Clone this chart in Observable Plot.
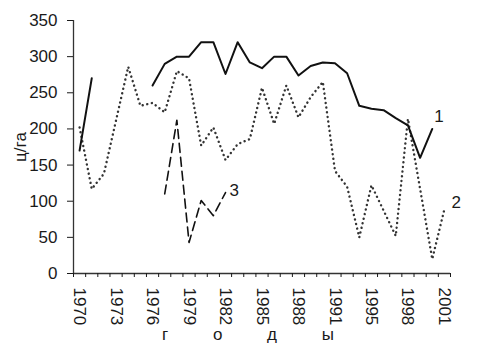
<!DOCTYPE html>
<html><head><meta charset="utf-8">
<script src="https://cdn.jsdelivr.net/npm/d3@7"></script>
<script src="https://cdn.jsdelivr.net/npm/@observablehq/plot@0.6"></script>
<style>body{margin:0;background:#fff} svg{font-family:"Liberation Sans",Arial,sans-serif}</style>
</head><body><div id="chart"></div>
<script>
// categories (one year, 1992, is absent in the original category axis)
const years = [1970,1971,1972,1973,1974,1975,1976,1977,1978,1979,1980,1981,1982,1983,1984,1985,1986,1987,1988,1989,1990,1991,1993,1994,1995,1996,1997,1998,1999,2000,2001];
// series 1 (solid)
const series1 = [170,270,null,null,null,null,260,290,300,300,320,320,276,320,292,284,300,300,274,287,292,291,277,232,228,226,215,205,160,200,null];
// series 2 (dotted)
const series2 = [202,117,138,212,286,232,236,223,280,270,177,202,157,179,186,257,207,260,216,244,265,142,120,50,122,87,52,214,117,20,89];
// series 3 (dashed)
const series3 = [null,null,null,null,null,null,null,110,212,43,101,80,112,null,null,null,null,null,null,null,null,null,null,null,null,null,null,null,null,null,null];
const seriesLabels = ["1","2","3"];
const yTicks = [0,50,100,150,200,250,300,350];
const xLabelStep = 3;
const yLabel = "ц/га";
const xLabel = "г о д ы";

const rows = (vals) => vals.map((v, i) => ({i, year: years[i], v}));
const r1 = rows(series1), r2 = rows(series2), r3 = rows(series3);
const lastOf = (r, k) => ({...r.filter(d => d.v != null).at(-1), label: seriesLabels[k]});
const lab1 = lastOf(r1, 0), lab2 = lastOf(r2, 1), lab3 = lastOf(r3, 2);

const plot = Plot.plot({
  width: 484, height: 351,
  marginLeft: 73, marginRight: 34, marginTop: 20, marginBottom: 78,
  style: {fontFamily: "Liberation Sans, Arial, sans-serif", fontSize: "17px", color: "#1a1a1a", background: "#fff"},
  x: {domain: [-0.5, years.length - 0.5]},
  y: {domain: [0, 350]},
  marks: [
    Plot.ruleY([0], {stroke: "#333", strokeWidth: 1.3}),
    Plot.ruleX([-0.5], {stroke: "#333", strokeWidth: 1.3}),
    Plot.axisY({ticks: yTicks, tickSize: 6, tickPadding: 10, label: yLabel, labelAnchor: "center", labelOffset: 60, labelArrow: "none", fontSize: 17}),
    Plot.axisX({ticks: d3.range(years.length + 1).map(k => k - 0.5), tickSize: 4, tickFormat: () => "", label: null}),
    Plot.axisX({ticks: d3.range(0, years.length, xLabelStep), tickSize: 0, tickPadding: 14, tickRotate: 90, tickFormat: i => String(years[i]), label: null, fontSize: 17}),
    Plot.line(r2, {x: "i", y: "v", stroke: "#333", strokeWidth: 2.4, strokeDasharray: "0.1 4.6", strokeLinecap: "round"}),
    Plot.line(r3, {x: "i", y: "v", stroke: "#111", strokeWidth: 1.6, strokeDasharray: "9 5"}),
    Plot.line(r1, {x: "i", y: "v", stroke: "#111", strokeWidth: 2}),
    Plot.text([lab1], {x: "i", y: "v", text: "label", dx: 2, dy: -12, textAnchor: "start", fontSize: 17, fill: "#1a1a1a"}),
    Plot.text([lab2], {x: "i", y: "v", text: "label", dx: 7, dy: -7, textAnchor: "start", fontSize: 17, fill: "#1a1a1a"}),
    Plot.text([lab3], {x: "i", y: "v", text: "label", dx: 4, dy: -2, textAnchor: "start", fontSize: 17, fill: "#1a1a1a"}),
    Plot.text([xLabel], {frameAnchor: "bottom", dy: 66, dx: -4, fontSize: 17, fill: "#1a1a1a"})
  ]
});
d3.select(plot).selectAll("text").filter(function(){ return this.textContent === xLabel; }).attr("letter-spacing", "20px");
document.getElementById("chart").appendChild(plot);
</script>
</body></html>
